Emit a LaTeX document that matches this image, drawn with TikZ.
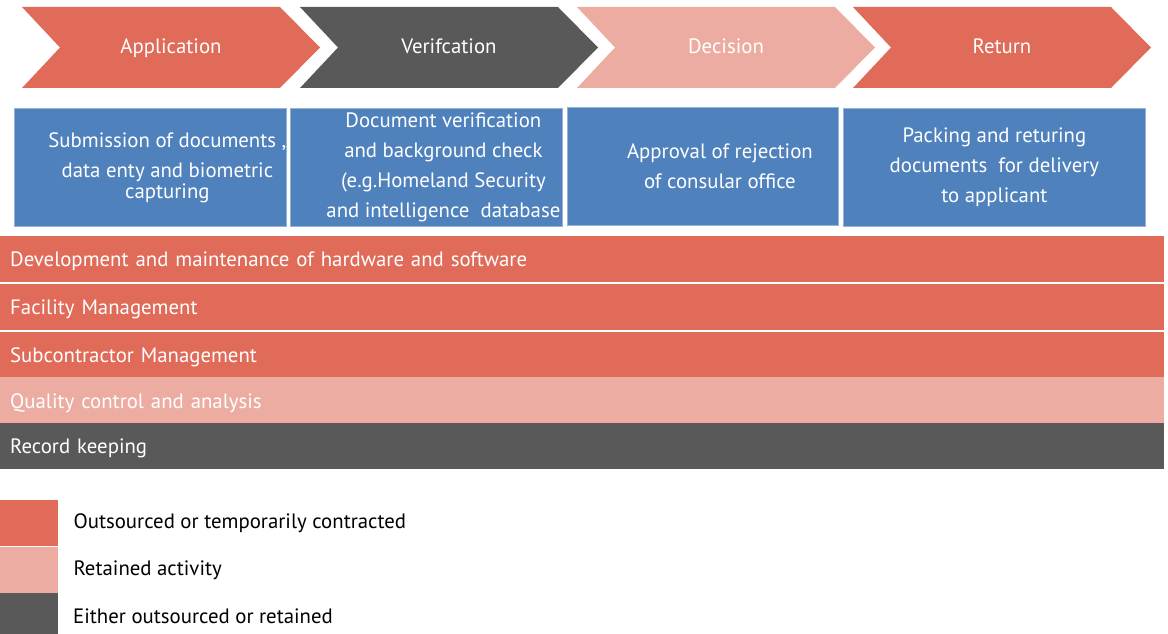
\documentclass[tikz,border=0pt]{standalone}
\usepackage{fontspec}
\setmainfont{PT Sans}
\usetikzlibrary{positioning}
\definecolor{outC}{HTML}{E06B59}
\definecolor{retC}{HTML}{EDACA1}
\definecolor{eitherC}{HTML}{595959}
\definecolor{taskC}{HTML}{4F81BD}
\tikzset{
  steplabel/.style={text=white, font=\fontsize{20.8}{25}\selectfont, text height=14pt, text depth=4pt},
  taskbox/.style={rectangle, anchor=north west, fill=taskC, draw=taskC!60!white,
    line width=0.8pt, minimum height=118pt, align=center, text=white,
    font=\fontsize{20.8}{30}\selectfont, inner sep=0pt},
  band/.style={rectangle, anchor=north west, minimum width=1164pt, minimum height=46pt,
    text width=1164pt, inner xsep=0pt, inner ysep=0pt, align=left, text=white,
    font=\fontsize{20.8}{25}\selectfont, text depth=0pt},
  keybox/.style={rectangle, anchor=north west, minimum width=58pt, minimum height=46pt, inner sep=0pt},
  keytext/.style={font=\fontsize{20.8}{25}\selectfont, text=black, inner sep=0pt}
}
\newcommand{\shiftln}{\hspace*{34pt}}
\begin{document}
\begin{tikzpicture}[x=1pt, y=-1pt]
      \useasboundingbox (0,0) rectangle (1168,634);
      \foreach \x/\c/\t/\n in {22/outC/Application/app, 300/eitherC/Verifcation/ver,
          577/retC/Decision/dec, 853/outC/Return/ret} {
        \fill[\c] (\x,7) -- ++(258,0) -- ++(40,40.5) -- ++(-40,40.5)
          -- ++(-258,0) -- ++(38,-40.5) -- cycle;
        \node[steplabel] (\n) at (\x+149,49) {\t};
      }
      \node[taskbox, minimum width=271pt] (sub) at (14,108)
        {\shiftln Submission of documents ,\\ \shiftln data enty and biometric\\[-9pt] \shiftln capturing};
      \node[taskbox, minimum width=272pt] (chk) at (290,108)
        {\shiftln Document verification\\ \shiftln and background check\\ \shiftln (e.g.Homeland Security\\ \shiftln and intelligence\ \ database};
      \node[taskbox, minimum width=271pt] (apv) at (567,107)
        {\shiftln Approval of rejection\\ \shiftln of consular office};
      \node[taskbox, minimum width=302pt] (pck) at (843,108)
        {Packing and returing\\ documents\ \ for delivery\\ to applicant};
      \begin{scope}[every node/.append style={band}]
        \node[fill=outC] (dev) at (0,236) {\hspace*{10pt}Development and maintenance of hardware and software};
        \node[fill=outC] (fac) at (0,284) {\hspace*{10pt}Facility Management};
        \node[fill=outC] (scm) at (0,332) {\hspace*{10pt}Subcontractor Management};
        \node[fill=retC, minimum height=47pt] (qca) at (0,377) {\hspace*{10pt}Quality control and analysis};
        \node[fill=eitherC] (rec) at (0,423) {\hspace*{10pt}Record keeping};
      \end{scope}
      \node[keybox, fill=outC] (kout) at (0,500) {};
      \node[keybox, fill=retC] (kret) at (0,547) {};
      \node[keybox, fill=eitherC] (keit) at (0,593) {};
      \node[keytext, right=15pt of kout.east, anchor=west] (tout) {Outsourced or temporarily contracted};
      \node[keytext, right=15pt of kret.east, anchor=west] (tret) {Retained activity};
      \node[keytext, anchor=west] (teit) at (73,616) {Either outsourced or retained};
    \end{tikzpicture}
\end{document}
